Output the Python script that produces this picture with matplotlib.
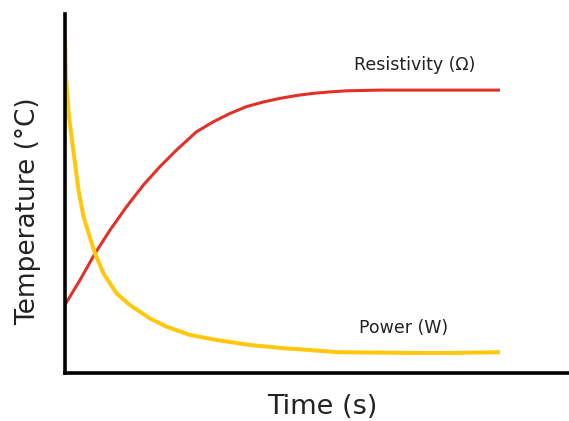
import numpy as np
import matplotlib
matplotlib.use("Agg")
import matplotlib.pyplot as plt

# values (arbitrary units)
t_res = [0, 3, 6, 9, 12.3, 15.7, 19, 22.3, 26.3, 29.7, 33, 36.3, 39.7, 43, 46.3, 49.7, 53, 56.3, 63, 75, 87]
resistivity = [19.0, 25.9, 33.3, 39.8, 46.3, 52.4, 57.5, 62.1, 67.2, 70.0, 72.3, 74.2, 75.5, 76.5, 77.3, 77.9, 78.3, 78.6, 78.8, 78.8, 78.8]

t_pow = [0, 0.2, 0.8, 1.7, 2.7, 3.7, 4.4, 6, 7.7, 10.3, 13, 17, 20.3, 25, 30.3, 37, 43.7, 47, 54.4, 62, 69, 78, 87]
power = [93.3, 82.4, 71.3, 61.6, 51.0, 43.5, 40.4, 33.3, 27.7, 22.2, 18.9, 15.2, 12.9, 10.6, 9.2, 7.8, 6.9, 6.6, 5.8, 5.7, 5.6, 5.6, 5.8]

fig = plt.figure(figsize=(5.69, 4.21), dpi=100)
ax = fig.add_axes([65 / 569, 48 / 421, 504 / 569, 359 / 421])

ax.plot(t_res, resistivity, color="#E0322A", lw=2.2, solid_capstyle="butt")
ax.plot(t_pow, power, color="#FFC80F", lw=2.9, solid_capstyle="butt")

ax.text(70, 85.8, "Resistivity (\u03a9)", fontsize=12.5, ha="center", va="center", color="#222222")
ax.text(67.8, 12.5, "Power (W)", fontsize=12.5, ha="center", va="center", color="#222222")

ax.set_xlim(0, 100.8)
ax.set_ylim(0, 100)
ax.set_xticks([])
ax.set_yticks([])
for s in ["top", "right"]:
    ax.spines[s].set_visible(False)
for s in ["left", "bottom"]:
    ax.spines[s].set_linewidth(2.6)
    ax.spines[s].set_color("black")

ax.set_xlabel("Time (s)", fontsize=19.5, va="center", color="#222222")
ax.xaxis.set_label_coords(0.51, -0.095)
ax.set_ylabel("Temperature (\u00b0C)", fontsize=19, va="center", ha="center", color="#222222")
ax.yaxis.set_label_coords(-0.073, 0.451)

fig.savefig("out.png", dpi=100)
